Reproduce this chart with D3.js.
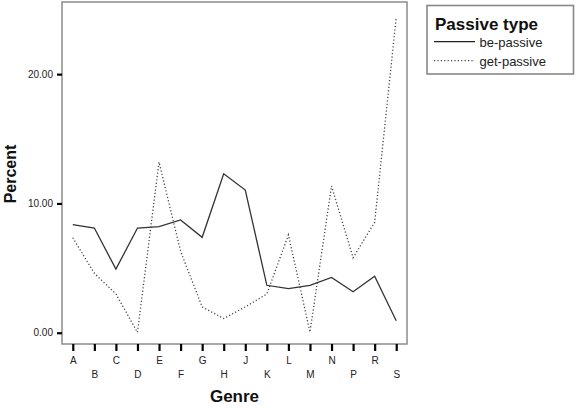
<!DOCTYPE html>
<html><head><meta charset="utf-8">
<script src="https://cdn.jsdelivr.net/npm/d3@7"></script>
<style>body{margin:0;background:#fff}svg{display:block}text{font-family:"Liberation Sans",Arial,sans-serif}</style>
</head><body>
<svg id="c" width="577" height="408"></svg>
<script>
const genres = ["A","B","C","D","E","F","G","H","J","K","L","M","N","P","R","S"];
const bePassive = [8.37, 8.1, 4.92, 8.1, 8.2, 8.72, 7.38, 12.3, 11.04, 3.67, 3.42, 3.67, 4.28, 3.17, 4.38, 0.93];
const getPassive = [7.35, 4.6, 3.0, 0.03, 13.2, 6.3, 2.0, 1.1, 2.0, 3.0, 7.57, 0.05, 11.35, 5.8, 8.54, 24.4];
const yTicks = [0, 10, 20];
const seriesNames = ["be-passive", "get-passive"];

const svg = d3.select("#c");
const L = 62, R = 407, T = 2, B = 344;
const x = d3.scalePoint().domain(genres).range([L, R]).padding(0.5);
const y = d3.scaleLinear().domain([-0.87, 25.58]).range([B, T]);

// frame
svg.append("rect").attr("x", L).attr("y", T).attr("width", R - L).attr("height", B - T)
  .attr("fill", "none").attr("stroke", "#8c8c8c").attr("stroke-width", 1.5);

// y axis
const ya = svg.append("g").attr("transform", `translate(${L},0)`)
  .call(d3.axisLeft(y).tickValues(yTicks).tickSize(5).tickPadding(4).tickFormat(d3.format(".2f")));
ya.select(".domain").remove();
ya.selectAll(".tick line").attr("stroke", "#000").attr("stroke-width", 2.2);
ya.selectAll(".tick text").attr("font-size", 10).attr("fill", "#222")
  .attr("font-family", "Liberation Sans, Arial, sans-serif");

// x axis
const xa = svg.append("g").attr("transform", `translate(0,${B})`)
  .call(d3.axisBottom(x).tickSize(7).tickPadding(0));
xa.select(".domain").remove();
xa.selectAll(".tick line").attr("stroke", "#000").attr("stroke-width", 2.2);
xa.selectAll(".tick text").attr("font-size", 10).attr("fill", "#222")
  .attr("font-family", "Liberation Sans, Arial, sans-serif")
  .attr("dy", null)
  .attr("y", (d, i) => i % 2 === 0 ? 20 : 34.3);

// lines
const line = d3.line().x((d, i) => x(genres[i])).y(d => y(d));
svg.append("path").datum(getPassive).attr("d", line).attr("fill", "none")
  .attr("stroke", "#444").attr("stroke-width", 1.3).attr("stroke-dasharray", "1.2,2.2");
svg.append("path").datum(bePassive).attr("d", line).attr("fill", "none")
  .attr("stroke", "#333").attr("stroke-width", 1.3);

// axis titles
svg.append("text").attr("x", (L + R) / 2).attr("y", 402).attr("text-anchor", "middle")
  .attr("font-size", 17).attr("font-weight", "bold").attr("fill", "#111").text("Genre");
svg.append("text").attr("transform", `translate(15.5,${(T + B) / 2 + 1}) rotate(-90)`)
  .attr("text-anchor", "middle").attr("font-size", 16).attr("font-weight", "bold")
  .attr("fill", "#111").text("Percent");

// legend
const lg = svg.append("g");
lg.append("rect").attr("x", 427).attr("y", 5.5).attr("width", 146.5).attr("height", 68.5)
  .attr("fill", "#fff").attr("stroke", "#888").attr("stroke-width", 1.6);
lg.append("text").attr("x", 435).attr("y", 30).attr("font-size", 17).attr("font-weight", "bold")
  .attr("fill", "#111").text("Passive type");
const dashes = [null, "1.2,2.2"];
seriesNames.forEach((n, i) => {
  const yy = 41.7 + i * 19;
  lg.append("line").attr("x1", 434).attr("x2", 475).attr("y1", yy).attr("y2", yy)
    .attr("stroke", i ? "#444" : "#222").attr("stroke-width", 1.3)
    .attr("stroke-dasharray", dashes[i]);
  lg.append("text").attr("x", 479.5).attr("y", yy + 4.8).attr("font-size", 13)
    .attr("fill", "#222").text(n);
});
</script>
</body></html>
